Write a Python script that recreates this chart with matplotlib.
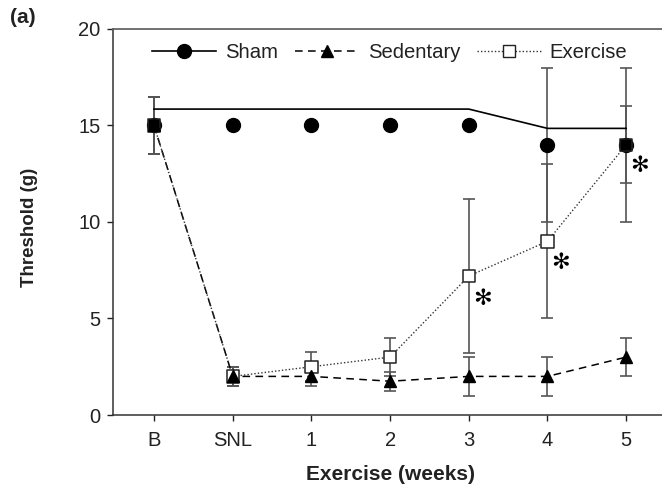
import matplotlib
matplotlib.use("Agg")
import matplotlib.pyplot as plt
from matplotlib.lines import Line2D

plt.rcParams['font.family'] = ['Liberation Sans', 'DejaVu Sans']

# data
labels = ["B", "SNL", "1", "2", "3", "4", "5"]
sham = [15, 15, 15, 15, 15, 14, 14]
sham_err = [1.5, 0, 0, 0, 0, 4, 4]
sham_line = [15.85, 15.85, 15.85, 15.85, 15.85, 14.85, 14.85]
sedentary = [15, 2, 2, 1.75, 2, 2, 3]
sedentary_err = [1.5, 0.5, 0.5, 0.5, 1, 1, 1]
exercise = [15, 2, 2.5, 3, 7.2, 9, 14]
exercise_err = [1.5, 0.5, 0.75, 1, 4, 4, 2]
sig_weeks = [4, 5, 6]
sig_y = [6.0, 7.85, 12.9]

x = list(range(len(labels)))
errc = "#555555"
txtc = "#222222"

fig = plt.figure(figsize=(6.62, 4.92), dpi=100)
ax = fig.add_axes([0.1712, 0.1565, 0.8288, 0.7846])

# error bars first
for vals, errs in [(sham, sham_err), (sedentary, sedentary_err),
                   (exercise, exercise_err)]:
    ax.errorbar(x, vals, yerr=errs, fmt="none", ecolor=errc, elinewidth=1.2,
                capsize=4, capthick=1.2, zorder=2)

# lines
ax.plot(x, sham_line, color="black", lw=1.2, zorder=3)
ax.plot(x, sedentary, color="black", lw=1.1, ls=(0, (5, 3.5)), zorder=3)
ax.plot(x, exercise, color="#333333", lw=1.0, ls=(0, (1, 1.5)), zorder=3)

# markers
ax.plot(x, sham, "o", color="black", ms=10, ls="none", zorder=4)
ex_face = ["black" if e == s else "white" for e, s in zip(exercise, sham)]
ax.scatter(x, exercise, marker="s", s=80, facecolors=ex_face,
           edgecolors="#222222", linewidths=1.1, zorder=5)
ax.plot(x, sedentary, "^", color="black", ms=9, ls="none", zorder=6)

for wx, wy in zip(sig_weeks, sig_y):
    ax.text(wx + 0.17, wy, "\u273b", fontsize=16, ha="center", va="center",
            family="DejaVu Sans", color="black", zorder=7)

ax.set_xlim(-0.517, 6.455)
ax.set_ylim(0, 20)
ax.set_xticks(x)
ax.set_xticklabels(labels)
ax.set_yticks([0, 5, 10, 15, 20])
ax.tick_params(direction="out", length=4.3, width=1, labelsize=14.5,
               pad=5, colors=txtc, labelcolor=txtc)
ax.tick_params(axis="x", pad=7)

ax.spines["right"].set_visible(False)
for s in ["left", "bottom"]:
    ax.spines[s].set_color("#333333")
    ax.spines[s].set_linewidth(1.1)
ax.spines["top"].set_color("#666666")
ax.spines["top"].set_linewidth(1.3)

ax.set_xlabel("Exercise (weeks)", fontsize=15, fontweight="bold", color=txtc)
ax.set_ylabel("Threshold (g)", fontsize=13.5, fontweight="bold", color=txtc)
ax.xaxis.set_label_coords(0.506, -0.153)
ax.xaxis.label.set_va("center")
ax.yaxis.set_label_coords(-0.152, 0.487)
ax.yaxis.label.set_va("center")

handles = [
    Line2D([], [], color="black", lw=1.2, marker="o", ms=10),
    Line2D([], [], color="black", lw=1.1, ls=(0, (5, 3.5)), marker="^", ms=9),
    Line2D([], [], color="#333333", lw=1.0, ls=(0, (1, 1.5)), marker="s",
           ms=9, mfc="white", mec="#222222"),
]
ax.legend(handles, ["Sham", "Sedentary", "Exercise"], ncol=3, frameon=False,
          fontsize=14.6, handlelength=3.15, handletextpad=0.44,
          columnspacing=0.84, numpoints=1, loc="center left", borderpad=0,
          bbox_to_anchor=(0.052, 0.940), labelcolor=txtc)

fig.text(0.034, 0.965, "(a)", fontsize=15, fontweight="bold", ha="center",
         va="center", color=txtc)

fig.savefig("out.png", dpi=100)
